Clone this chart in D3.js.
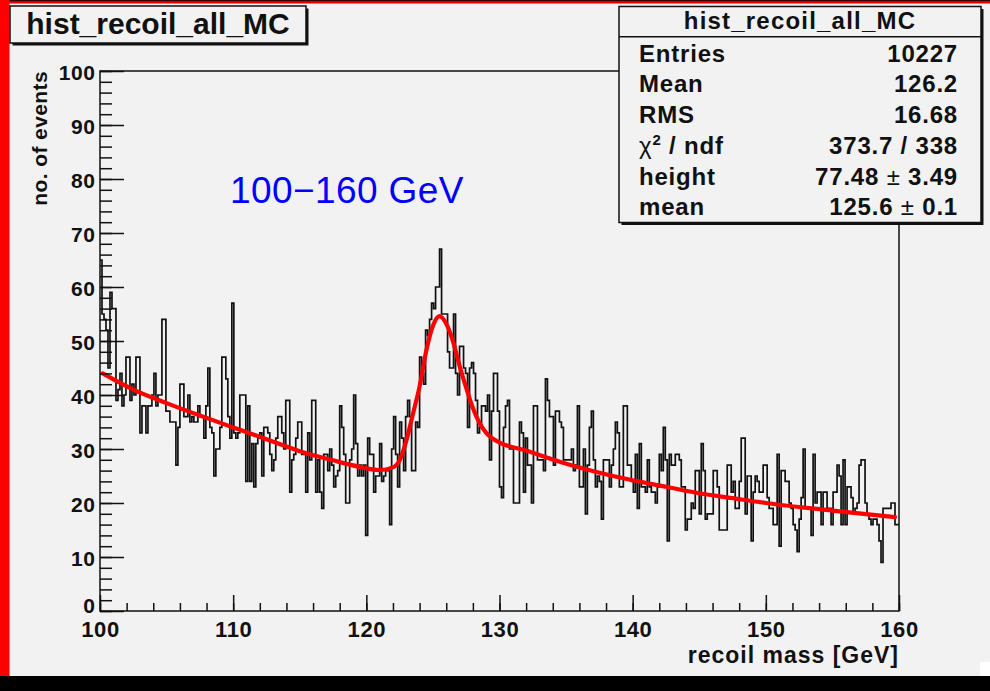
<!DOCTYPE html>
<html>
<head>
<meta charset="utf-8">
<script src="https://cdn.jsdelivr.net/npm/d3@7"></script>
<style>
  html, body { margin: 0; padding: 0; background: #f2f2f2; }
  svg { display: block; }
  text { font-family: "Liberation Sans", Arial, Helvetica, sans-serif; }
</style>
</head>
<body>
<svg id="canvas" width="990" height="691"></svg>
<script>
// ---- histogram: recoil mass, 400 bins between 100 and 160 GeV ----
const histRange = [100, 160];
const counts = [
  65,55,54,52,45,59,56,56,39,41,44,38,40,47,47,39,42,40,47,47,33,38,38,33,38,38,40,44,38,40,40,54,54,
  37,37,35,35,35,27,34,42,42,36,36,40,35,36,35,35,38,36,36,32,38,45,34,33,25,30,30,34,47,47,43,36,
  32,57,33,32,33,40,40,40,24,38,24,31,23,31,32,33,25,34,34,33,29,26,28,32,36,36,33,30,39,39,22,28,29,32,35,35,29,29,22,33,28,39,39,22,28,22,19,29,29,26,30,27,23,25,26,38,34,29,20,20,28,30,40,31,25,
  27,25,27,14,32,29,29,22,25,25,31,24,25,26,26,16,30,36,29,23,35,32,26,36,39,36,26,26,35,34,47,44,42,52,51,54,57,56,60,60,67,55,55,55,48,45,45,55,44,40,49,49,45,44,34,45,46,44,39,33,34,38,38,37,40,28,37,44,44,
  37,23,21,34,38,39,30,30,20,20,20,35,33,22,32,27,27,20,38,38,28,28,28,26,43,39,36,36,27,37,37,35,34,28,28,28,28,30,26,27,38,23,23,30,18,27,34,37,28,23,25,24,17,28,28,28,23,27,30,35,33,23,23,38,38,27,27,24,22,
  29,19,31,23,23,22,28,23,22,22,20,23,29,26,34,28,13,29,27,27,29,29,28,23,23,15,17,17,20,19,26,26,18,31,26,17,18,18,18,26,26,23,15,15,15,15,27,27,22,24,19,19,24,32,32,18,25,25,13,22,25,24,22,22,27,27,
  21,19,19,16,16,29,12,26,26,24,24,20,19,16,15,11,17,21,30,19,19,19,14,29,20,22,22,16,22,22,19,19,16,22,22,27,25,16,28,16,23,23,21,18,19,20,27,28,28,20,18,17,16,17,17,16,13,9,19,19,19,19,20,20,16,16
];

// ---- fitted curve (background + peak) ----
const fitMass = [100.2, 102.5, 105, 107.5, 110, 112.5, 115, 117.5, 119.5, 121, 122, 122.5, 123, 123.5, 124, 124.5,
  125, 125.5, 126, 126.5, 127, 127.5, 128, 128.5, 129, 129.5, 130, 132, 134.7, 137.2, 140, 142.5, 145, 147.5, 150, 155, 159.7];
const fitEvents = [44.0, 41.0, 38.5, 36.2, 34.0, 31.8, 29.6, 27.9, 26.7, 26.1, 26.6, 27.9, 31.5, 36.5, 41.6, 48.2,
  52.8, 54.6, 53.2, 50.0, 45.4, 41.3, 37.6, 34.8, 33.0, 31.9, 31.2, 29.7, 27.5, 25.8, 24.2, 23.0, 21.8, 20.9, 20.0, 18.6, 17.4];

// ---- axes ----
const xTicks = [100, 110, 120, 130, 140, 150, 160];
const xMinorTicks = d3.range(100, 160.1, 2);
const yTicks = [0, 10, 20, 30, 40, 50, 60, 70, 80, 90, 100];
const yMinorTicks = d3.range(0, 100.1, 2);
const xTitle = "recoil mass [GeV]";
const yTitle = "no. of events";

// ---- labels ----
const histName = "hist_recoil_all_MC";
const rangeNote = "100\u2212160 GeV";
const statLabels = ["Entries", "Mean", "RMS", "\u03c7\u00b2 / ndf", "height", "mean"];
const statValues = ["10227", "126.2", "16.68", "373.7 / 338", "77.48 \u00b1 3.49", "125.6 \u00b1 0.1"];

const svg = d3.select("#canvas");
const W = 990, H = 691;

// pad background and window edges
svg.append("rect").attr("width", W).attr("height", H).attr("fill", "#f2f2f2");
svg.append("rect").attr("x", 0).attr("y", 0).attr("width", W).attr("height", 3.5).attr("fill", "#e00000");
svg.append("rect").attr("x", 0).attr("y", 0).attr("width", W).attr("height", 1.2).attr("fill", "#3a0000");
svg.append("rect").attr("x", 0).attr("y", 0).attr("width", 9.5).attr("height", 676).attr("fill", "#ff0000");
svg.append("rect").attr("x", 0).attr("y", 676).attr("width", W).attr("height", H - 676).attr("fill", "#000");
svg.append("rect").attr("x", 980).attr("y", 662).attr("width", 10).attr("height", 14).attr("fill", "#ffffff");

const frame = { left: 100, right: 899, top: 71, bottom: 611 };
const x = d3.scaleLinear().domain(histRange).range([frame.left, frame.right]);
const y = d3.scaleLinear().domain([0, 100]).range([frame.bottom, frame.top]);

// histogram outline as a step path
const nb = counts.length;
const bw = (histRange[1] - histRange[0]) / nb;
const stepPts = [];
counts.forEach((c, i) => {
  const lo = histRange[0] + i * bw;
  stepPts.push([lo, c], [lo + bw, c]);
});
const histLine = d3.line().x(d => x(d[0])).y(d => y(d[1]));
svg.append("path")
  .attr("d", histLine(stepPts))
  .attr("fill", "none")
  .attr("stroke", "#111")
  .attr("stroke-width", 1.7)
  .attr("stroke-linejoin", "miter");

// fit curve
const fitLine = d3.line()
  .x((d, i) => x(fitMass[i]))
  .y(d => y(d))
  .curve(d3.curveMonotoneX);
svg.append("path")
  .attr("d", fitLine(fitEvents))
  .attr("fill", "none")
  .attr("stroke", "#ff0000")
  .attr("stroke-width", 4.2)
  .attr("stroke-linecap", "round");

// y axis: minor then major ticks pointing into the frame
const yMinor = svg.append("g").attr("transform", `translate(${frame.left},0)`)
  .call(d3.axisLeft(y).tickValues(yMinorTicks).tickSize(-12).tickFormat(""));
const yMajor = svg.append("g").attr("transform", `translate(${frame.left},0)`)
  .call(d3.axisLeft(y).tickValues(yTicks).tickSize(-24).tickPadding(5).tickFormat(d3.format("d")));
[yMinor, yMajor].forEach(g => {
  g.select(".domain").remove();
  g.selectAll("line").attr("stroke", "#111").attr("stroke-width", 1.5);
});
yMajor.selectAll("text")
  .attr("fill", "#111")
  .attr("font-size", 21)
  .attr("font-weight", "bold")
  .attr("x", -4.5)
  .attr("dy", d => d === 0 ? "1.5" : "8.5")
  .attr("letter-spacing", 0.6);

// x axis
const xMinor = svg.append("g").attr("transform", `translate(0,${frame.bottom})`)
  .call(d3.axisBottom(x).tickValues(xMinorTicks).tickSize(-8).tickFormat(""));
const xMajor = svg.append("g").attr("transform", `translate(0,${frame.bottom})`)
  .call(d3.axisBottom(x).tickValues(xTicks).tickSize(-16).tickFormat(d3.format("d")));
[xMinor, xMajor].forEach(g => {
  g.select(".domain").remove();
  g.selectAll("line").attr("stroke", "#111").attr("stroke-width", 1.5);
});
xMajor.selectAll("text")
  .attr("fill", "#111")
  .attr("font-size", 22)
  .attr("font-weight", "bold")
  .attr("y", 26)
  .attr("dy", 0)
  .attr("letter-spacing", 0.6);

// frame
svg.append("rect")
  .attr("x", frame.left).attr("y", frame.top)
  .attr("width", frame.right - frame.left).attr("height", frame.bottom - frame.top)
  .attr("fill", "none").attr("stroke", "#111").attr("stroke-width", 1.5);

// axis titles
svg.append("text")
  .attr("x", frame.right).attr("y", 663)
  .attr("text-anchor", "end")
  .attr("font-size", 23).attr("font-weight", "bold").attr("fill", "#111")
  .attr("letter-spacing", 1.0)
  .text(xTitle);
svg.append("text")
  .attr("transform", `translate(46.5,${frame.top}) rotate(-90)`)
  .attr("text-anchor", "end")
  .attr("font-size", 21).attr("font-weight", "bold").attr("fill", "#111")
  .attr("letter-spacing", 0.4)
  .text(yTitle);

// range annotation
svg.append("text")
  .attr("x", 230).attr("y", 203)
  .attr("font-size", 37).attr("fill", "#0000ff")
  .attr("letter-spacing", 0.4)
  .text(rangeNote);

// boxes with drop shadow
function shadowBox(x0, y0, w, h) {
  svg.append("rect").attr("x", x0 + 2.5).attr("y", y0 + 2.5).attr("width", w).attr("height", h).attr("fill", "#111");
  svg.append("rect").attr("x", x0).attr("y", y0).attr("width", w).attr("height", h)
    .attr("fill", "#f2f2f2").attr("stroke", "#111").attr("stroke-width", 1.5);
}

// title box
shadowBox(10, 6, 296, 37);
svg.append("text")
  .attr("x", 158).attr("y", 34)
  .attr("text-anchor", "middle")
  .attr("font-size", 30).attr("font-weight", "bold").attr("fill", "#111")
  .text(histName);

// statistics box
const sb = { x: 619, y: 6.5, w: 362, h: 216 };
shadowBox(sb.x, sb.y, sb.w, sb.h);
svg.append("line")
  .attr("x1", sb.x).attr("x2", sb.x + sb.w).attr("y1", 36.7).attr("y2", 36.7)
  .attr("stroke", "#111").attr("stroke-width", 1.5);
svg.append("text")
  .attr("x", sb.x + sb.w / 2).attr("y", 29)
  .attr("text-anchor", "middle")
  .attr("font-size", 24).attr("font-weight", "bold").attr("fill", "#111")
  .attr("letter-spacing", 1.2)
  .text(histName);

const rowY = d3.range(statLabels.length).map(k => 61.7 + 30.7 * k);
statLabels.forEach((lab, k) => {
  const t = svg.append("text")
    .attr("x", 639).attr("y", rowY[k])
    .attr("font-size", 24).attr("font-weight", "bold").attr("fill", "#111")
    .attr("letter-spacing", 0.8);
  if (lab.startsWith("\u03c7")) {
    t.append("tspan").attr("font-weight", "normal").text("\u03c7");
    t.append("tspan").attr("font-size", 15).attr("dy", -9).text("2");
    t.append("tspan").attr("dy", 9).text(" / ndf");
  } else {
    t.text(lab);
  }
});
statValues.forEach((val, k) => {
  const t = svg.append("text")
    .attr("x", 958).attr("y", rowY[k])
    .attr("text-anchor", "end")
    .attr("font-size", 24).attr("font-weight", "bold").attr("fill", "#111")
    .attr("letter-spacing", 0.8);
  const parts = val.split("\u00b1");
  if (parts.length === 2) {
    t.append("tspan").text(parts[0]);
    t.append("tspan").attr("font-weight", "normal").text("\u00b1");
    t.append("tspan").text(parts[1]);
  } else {
    t.text(val);
  }
});
</script>
</body>
</html>
